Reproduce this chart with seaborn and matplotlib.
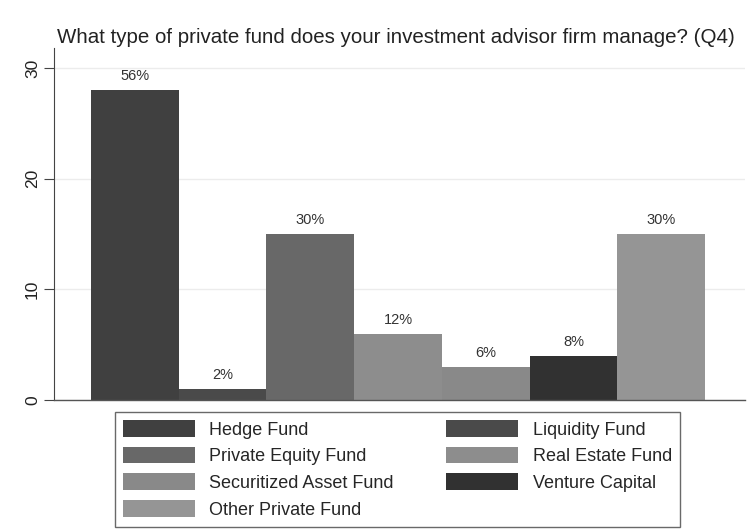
import pandas as pd
import matplotlib.pyplot as plt
import seaborn as sns
from matplotlib.patches import Patch

# Survey answers to Q4 (number of firms, multiple answers allowed)
fund_types = ['Hedge Fund', 'Liquidity Fund', 'Private Equity Fund', 'Real Estate Fund',
              'Securitized Asset Fund', 'Venture Capital', 'Other Private Fund']
counts = [28, 1, 15, 6, 3, 4, 15]
pct_labels = ['56%', '2%', '30%', '12%', '6%', '8%', '30%']
bar_colors = ['#404040', '#4a4a4a', '#686868', '#8d8d8d', '#898989', '#313131', '#959595']

df = pd.DataFrame({'Fund': fund_types, 'Count': counts})

sns.set_style('white')
plt.rcParams['font.family'] = ['Liberation Sans', 'DejaVu Sans']

fig = plt.figure(figsize=(7.54, 5.31), dpi=100)
ax = fig.add_axes([54 / 754, 1 - 400 / 531, 691 / 754, 352 / 531])

sns.barplot(data=df, x='Fund', y='Count', hue='Fund', palette=bar_colors,
            width=1.0, dodge=False, legend=False, linewidth=0, ax=ax)

# percent labels above bars
for cont, lab in zip(ax.containers, pct_labels):
    ax.bar_label(cont, labels=[lab], padding=5, fontsize=10.5, color='#333333')

ax.set_xlim(-0.92, 6.955)
ax.set_ylim(0, 31.8)
ax.set_yticks([0, 10, 20, 30])
ax.set_xticks([])
ax.set_xlabel('')
ax.set_ylabel('')
ax.tick_params(axis='y', length=7, width=0.8, color='#444444', labelsize=12.5,
               labelcolor='#222222', left=True, pad=3)
for lbl in ax.get_yticklabels():
    lbl.set_rotation(90)
    lbl.set_va('center')

ax.yaxis.grid(True, color='#ececec', linewidth=1)
ax.set_axisbelow(True)
sns.despine(ax=ax)
ax.spines['left'].set_color('#444444')
ax.spines['bottom'].set_color('#555555')
ax.spines['left'].set_linewidth(0.8)
ax.spines['bottom'].set_linewidth(1.0)

fig.text(57 / 754, 1 - 37 / 531, 'What type of private fund does your investment advisor firm manage? (Q4)',
         fontsize=14.8, color='#222222', va='center', ha='left')

# legend filled row by row, two columns
handles = [Patch(facecolor=c, edgecolor='none') for c in bar_colors]
order = [0, 2, 4, 6, 1, 3, 5]
leg = ax.legend([handles[i] for i in order], [fund_types[i] for i in order],
                loc='upper center', bbox_to_anchor=(0.497, -0.034), ncol=2,
                fontsize=13, frameon=True, fancybox=False, handlelength=4.0,
                handleheight=1.05, handletextpad=0.78, columnspacing=2.9,
                labelspacing=0.45, borderpad=0.45, borderaxespad=0)
leg.get_frame().set_edgecolor('#444444')
leg.get_frame().set_linewidth(1.0)

fig.savefig('out.png', dpi=100, facecolor='white')
